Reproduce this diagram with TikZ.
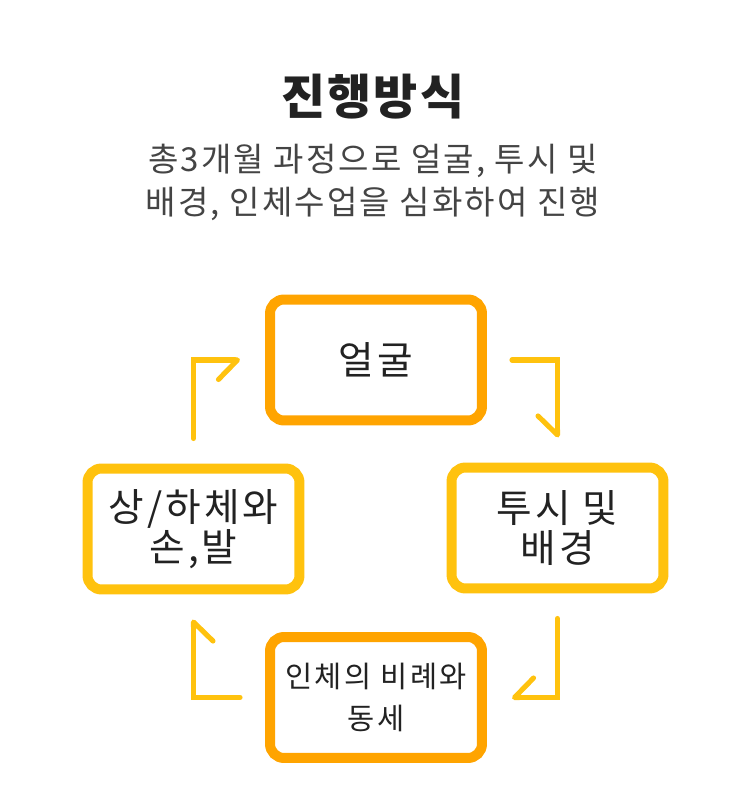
\documentclass[tikz,border=0pt]{standalone}
\usepackage{fontspec}
\setmainfont{Noto Sans CJK KR}
\usetikzlibrary{positioning}
\usetikzlibrary{arrows.meta}
\definecolor{boxorange}{HTML}{FFA400}
\definecolor{boxgold}{HTML}{FFC20E}
\definecolor{titlegray}{HTML}{222222}
\definecolor{subgray}{HTML}{444444}
\tikzset{
	% boxes
	stepbox/.style={draw, line width=5.7pt, rounded corners=8pt, fill=white,
		minimum width=4.24cm, minimum height=2.42cm, align=center, text=titlegray,
		font=\fontsize{22}{23}\selectfont\addfontfeature{LetterSpace=8}},
	% connectors
	flow/.style={draw=boxgold, line width=2.9pt, line cap=round,
		-{Straight Barb[right, round, length=0.38cm, width=0.78cm]}},
}

\begin{document}
\begin{tikzpicture}[x=0.02cm, y=0.02cm]
	\useasboundingbox (0,0) rectangle (741,785);
	
	\node[font=\fontsize{27.3}{30}\selectfont\bfseries\addfontfeature{LetterSpace=4}, text=titlegray] (title) at (373,688) {진행방식};
	\node[font=\fontsize{18.8}{24.5}\selectfont\addfontfeature{LetterSpace=6.5}, text=subgray, align=center] (sub) at (373,603)
		{총3개월 과정으로 얼굴, 투시 및\\배경, 인체수업을 심화하여 진행};
	
	\node[stepbox, draw=boxorange] (face) at (376,425) {얼굴};
	\node[stepbox, draw=boxgold] (persp) at (557.5,257) {투시 및\\배경};
	\node[stepbox, draw=boxorange, font=\fontsize{16.8}{23.9}\selectfont\addfontfeature{LetterSpace=8}] (body) at (376,87.5) {인체의 비례와\\동세};
	\node[stepbox, draw=boxgold] (limbs) at (193.5,256) {상/하체와\\손,발};
	
	\draw[flow] ([yshift=0.5cm]limbs.north) |- ([xshift=-0.5cm]face.west);
	\draw[flow] ([xshift=0.5cm]face.east) -| ([yshift=0.5cm]persp.north);
	\draw[flow] ([yshift=-0.5cm]persp.south) |- ([xshift=0.5cm]body.east);
	\draw[flow] ([xshift=-0.5cm]body.west) -| ([yshift=-0.5cm]limbs.south);
	
\end{tikzpicture}
\end{document}
